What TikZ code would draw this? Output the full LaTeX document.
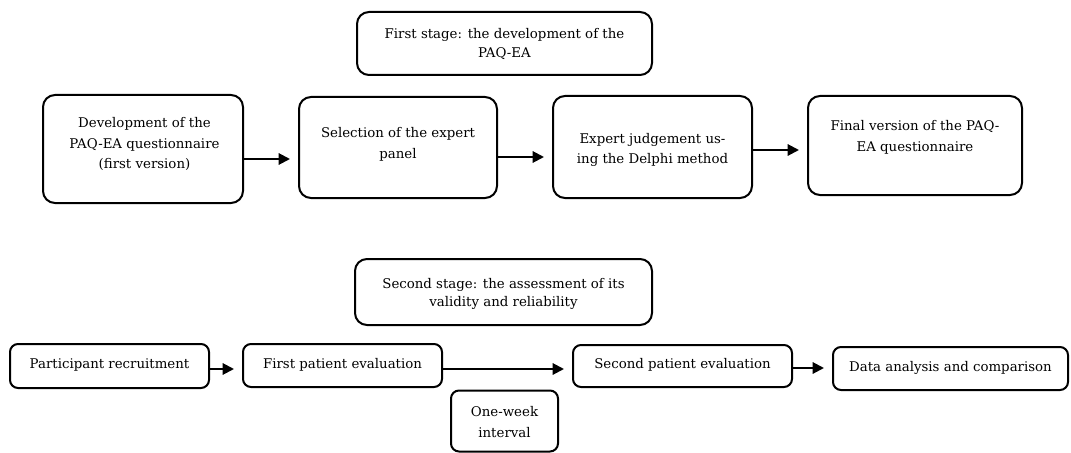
\documentclass[tikz,border=0pt]{standalone}
\usepackage{fontspec}
\setmainfont{DejaVu Serif}
\usetikzlibrary{arrows.meta}
\begin{document}
\begin{tikzpicture}[x=0.75pt,y=-0.75pt,
  bigbox/.style={draw,line width=1.5pt,rounded corners=9pt,inner sep=0pt},
  smallbox/.style={draw,line width=1.5pt,rounded corners=6pt,inner sep=0pt},
  txt/.style={align=center,font=\fontsize{10}{15.5}\selectfont,inner sep=0pt},
  arr/.style={line width=1.5pt,-{Triangle[length=8.5pt,width=8.5pt]},shorten >=6pt}]
\useasboundingbox (0,0) rectangle (1071,453);
% first stage
\node[bigbox,minimum width=295*0.75pt,minimum height=63*0.75pt] (t1) at (504.5,43.5) {};
\node[txt,font=\fontsize{10}{14}\selectfont] (t1t) at (504.5,44) {First stage: the development of the\\PAQ-EA};
\node[bigbox,minimum width=200*0.75pt,minimum height=108*0.75pt] (b1) at (143,149) {};
\node[txt] (b1t) at (144.5,144) {Development of the\\PAQ-EA questionnaire\\(first version)};
\node[bigbox,minimum width=198*0.75pt,minimum height=101*0.75pt] (b2) at (398,147.5) {};
\node[txt] (b2t) at (398,144) {Selection of the expert\\panel};
\node[bigbox,minimum width=199*0.75pt,minimum height=102*0.75pt] (b3) at (652.5,147) {};
\node[txt] (b3t) at (652.5,150) {Expert judgement us-\\ing the Delphi method};
\node[bigbox,minimum width=214*0.75pt,minimum height=99*0.75pt] (b4) at (915,145.5) {};
\node[txt] (b4t) at (915,137) {Final version of the PAQ-\\EA questionnaire};
\draw[arr] (b1.east |- 0,159) -- (b2.west |- 0,159);
\draw[arr] (b2.east |- 0,157) -- (b3.west |- 0,157);
\draw[arr] (b3.east |- 0,150) -- (b4.west |- 0,150);
% second stage
\node[bigbox,minimum width=297*0.75pt,minimum height=66*0.75pt] (t2) at (503.5,292) {};
\node[txt,font=\fontsize{10}{13.5}\selectfont] (t2t) at (503.5,294) {Second stage: the assessment of its\\validity and reliability};
\node[smallbox,minimum width=199*0.75pt,minimum height=44*0.75pt] (p1) at (109.5,366) {};
\node[txt] (p1t) at (109.5,365) {Participant recruitment};
\node[smallbox,minimum width=199*0.75pt,minimum height=43*0.75pt] (p2) at (342.5,365.5) {};
\node[txt] (p2t) at (342.5,365) {First patient evaluation};
\node[smallbox,minimum width=219*0.75pt,minimum height=42*0.75pt] (p3) at (682.5,366) {};
\node[txt] (p3t) at (682.5,365) {Second patient evaluation};
\node[smallbox,minimum width=235*0.75pt,minimum height=43*0.75pt] (p4) at (950.5,368.5) {};
\node[txt] (p4t) at (950.5,368) {Data analysis and comparison};
\node[smallbox,minimum width=107*0.75pt,minimum height=61*0.75pt] (ow) at (504.5,421) {};
\node[txt] (owt) at (504.5,422) {One-week\\interval};
\draw[arr] (p1.east |- 0,369) -- (p2.west |- 0,369);
\draw[arr] (p2.east |- 0,369) -- (p3.west |- 0,369);
\draw[arr] (p3.east |- 0,368) -- (p4.west |- 0,368);
\end{tikzpicture}
\end{document}
